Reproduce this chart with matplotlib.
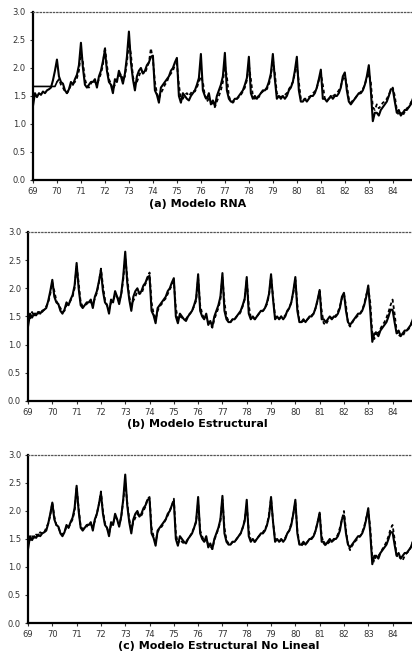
import numpy as np
import matplotlib
matplotlib.use("Agg")
import matplotlib.pyplot as plt

# monthly values, Jan..Dec, 1969-1984
years = list(range(69, 85))

actual = [
    [1.32, 1.55, 1.48, 1.55, 1.52, 1.58, 1.55, 1.60, 1.62, 1.65, 1.78, 1.95],
    [2.15, 1.85, 1.75, 1.72, 1.60, 1.55, 1.62, 1.75, 1.70, 1.80, 1.88, 2.05],
    [2.45, 2.00, 1.70, 1.65, 1.70, 1.75, 1.75, 1.80, 1.65, 1.85, 1.95, 2.12],
    [2.32, 1.95, 1.75, 1.70, 1.55, 1.80, 1.75, 1.95, 1.85, 1.72, 1.90, 2.20],
    [2.65, 2.10, 1.80, 1.60, 1.85, 1.95, 2.00, 1.90, 1.95, 2.05, 2.10, 2.20],
    [2.22, 1.60, 1.52, 1.38, 1.65, 1.70, 1.75, 1.80, 1.85, 1.95, 2.00, 2.10],
    [2.18, 1.50, 1.38, 1.55, 1.50, 1.45, 1.42, 1.50, 1.55, 1.60, 1.70, 1.82],
    [2.25, 1.60, 1.50, 1.45, 1.55, 1.35, 1.42, 1.32, 1.50, 1.60, 1.70, 1.85],
    [2.27, 1.60, 1.45, 1.40, 1.40, 1.45, 1.45, 1.50, 1.55, 1.60, 1.70, 1.82],
    [2.20, 1.55, 1.45, 1.50, 1.45, 1.50, 1.55, 1.60, 1.60, 1.65, 1.75, 1.90],
    [2.25, 1.80, 1.45, 1.50, 1.45, 1.50, 1.45, 1.50, 1.60, 1.65, 1.75, 1.95],
    [2.20, 1.60, 1.40, 1.40, 1.45, 1.40, 1.45, 1.50, 1.50, 1.55, 1.65, 1.80],
    [1.97, 1.45, 1.45, 1.40, 1.45, 1.50, 1.45, 1.50, 1.50, 1.55, 1.65, 1.85],
    [1.92, 1.60, 1.40, 1.35, 1.40, 1.45, 1.50, 1.55, 1.55, 1.60, 1.70, 1.85],
    [2.05, 1.60, 1.05, 1.20, 1.20, 1.15, 1.25, 1.30, 1.35, 1.40, 1.50, 1.62],
    [1.62, 1.40, 1.20, 1.25, 1.15, 1.20, 1.25, 1.25, 1.30, 1.35, 1.45, 1.55],
]

rna = [
    [1.67, 1.67, 1.67, 1.67, 1.67, 1.67, 1.67, 1.67, 1.67, 1.67, 1.67, 1.67],
    [1.75, 1.80, 1.70, 1.65, 1.58, 1.55, 1.60, 1.70, 1.72, 1.75, 1.82, 1.95],
    [2.30, 2.10, 1.80, 1.68, 1.65, 1.72, 1.78, 1.75, 1.70, 1.80, 1.90, 2.05],
    [2.38, 2.05, 1.80, 1.72, 1.62, 1.70, 1.80, 1.85, 1.90, 1.78, 1.85, 2.10],
    [2.45, 2.25, 1.85, 1.70, 1.75, 1.85, 1.95, 1.92, 1.90, 2.00, 2.10, 2.35],
    [2.15, 1.75, 1.55, 1.45, 1.55, 1.62, 1.70, 1.75, 1.85, 1.90, 1.95, 2.05],
    [2.08, 1.70, 1.45, 1.45, 1.52, 1.55, 1.50, 1.55, 1.60, 1.58, 1.65, 1.75],
    [1.85, 1.75, 1.50, 1.40, 1.45, 1.40, 1.35, 1.30, 1.40, 1.50, 1.60, 1.75],
    [2.05, 1.85, 1.50, 1.40, 1.38, 1.42, 1.45, 1.48, 1.52, 1.58, 1.65, 1.78],
    [2.05, 1.80, 1.50, 1.45, 1.50, 1.48, 1.55, 1.58, 1.62, 1.62, 1.70, 1.85],
    [2.15, 1.90, 1.55, 1.50, 1.48, 1.50, 1.52, 1.55, 1.62, 1.68, 1.75, 1.90],
    [2.05, 1.75, 1.45, 1.42, 1.45, 1.45, 1.48, 1.50, 1.55, 1.58, 1.65, 1.78],
    [1.90, 1.70, 1.45, 1.42, 1.45, 1.48, 1.50, 1.52, 1.55, 1.60, 1.68, 1.80],
    [1.85, 1.70, 1.45, 1.38, 1.42, 1.45, 1.50, 1.52, 1.58, 1.62, 1.70, 1.82],
    [1.90, 1.75, 1.30, 1.25, 1.35, 1.28, 1.32, 1.38, 1.40, 1.45, 1.52, 1.60],
    [1.65, 1.50, 1.25, 1.15, 1.20, 1.15, 1.22, 1.28, 1.30, 1.38, 1.45, 1.52],
]

estructural = [
    [1.55, 1.45, 1.58, 1.50, 1.58, 1.55, 1.60, 1.58, 1.62, 1.68, 1.75, 1.90],
    [2.10, 1.95, 1.78, 1.70, 1.65, 1.58, 1.60, 1.70, 1.72, 1.78, 1.85, 2.00],
    [2.40, 2.10, 1.75, 1.68, 1.70, 1.72, 1.78, 1.75, 1.72, 1.82, 1.92, 2.10],
    [2.35, 2.05, 1.80, 1.70, 1.62, 1.75, 1.78, 1.88, 1.85, 1.78, 1.88, 2.15],
    [2.55, 2.20, 1.85, 1.70, 1.78, 1.85, 1.95, 1.92, 1.90, 2.00, 2.08, 2.15],
    [2.28, 1.75, 1.55, 1.45, 1.60, 1.68, 1.72, 1.78, 1.82, 1.90, 1.98, 2.05],
    [2.12, 1.65, 1.45, 1.50, 1.48, 1.45, 1.45, 1.52, 1.55, 1.60, 1.68, 1.78],
    [2.18, 1.70, 1.55, 1.45, 1.50, 1.40, 1.38, 1.30, 1.45, 1.55, 1.65, 1.80],
    [2.20, 1.75, 1.50, 1.42, 1.40, 1.45, 1.45, 1.50, 1.52, 1.58, 1.68, 1.80],
    [2.15, 1.70, 1.48, 1.48, 1.45, 1.50, 1.55, 1.58, 1.60, 1.65, 1.72, 1.88],
    [2.20, 1.85, 1.50, 1.48, 1.45, 1.50, 1.48, 1.52, 1.58, 1.65, 1.75, 1.92],
    [2.15, 1.70, 1.42, 1.40, 1.42, 1.42, 1.45, 1.48, 1.52, 1.55, 1.65, 1.78],
    [1.95, 1.60, 1.38, 1.35, 1.42, 1.45, 1.48, 1.45, 1.52, 1.58, 1.68, 1.82],
    [1.90, 1.70, 1.38, 1.32, 1.38, 1.45, 1.48, 1.52, 1.55, 1.62, 1.72, 1.88],
    [2.00, 1.75, 1.20, 1.10, 1.25, 1.20, 1.28, 1.35, 1.40, 1.48, 1.58, 1.70],
    [1.80, 1.55, 1.25, 1.15, 1.18, 1.15, 1.22, 1.25, 1.28, 1.35, 1.45, 1.55],
]

no_lineal = [
    [1.50, 1.48, 1.55, 1.52, 1.58, 1.55, 1.62, 1.60, 1.62, 1.70, 1.78, 1.92],
    [2.15, 1.90, 1.75, 1.70, 1.62, 1.58, 1.62, 1.72, 1.70, 1.78, 1.85, 2.00],
    [2.42, 2.05, 1.72, 1.68, 1.70, 1.72, 1.78, 1.76, 1.72, 1.82, 1.95, 2.12],
    [2.35, 2.00, 1.78, 1.70, 1.60, 1.75, 1.78, 1.90, 1.85, 1.75, 1.88, 2.18],
    [2.50, 2.15, 1.85, 1.68, 1.80, 1.88, 1.95, 1.90, 1.92, 2.00, 2.08, 2.22],
    [2.25, 1.70, 1.55, 1.45, 1.62, 1.70, 1.72, 1.78, 1.85, 1.92, 2.00, 2.10],
    [2.22, 1.60, 1.42, 1.48, 1.45, 1.42, 1.45, 1.50, 1.55, 1.62, 1.70, 1.80],
    [2.15, 1.65, 1.55, 1.45, 1.50, 1.40, 1.38, 1.32, 1.48, 1.58, 1.68, 1.82],
    [2.20, 1.70, 1.48, 1.42, 1.40, 1.45, 1.45, 1.50, 1.55, 1.60, 1.70, 1.85],
    [2.10, 1.65, 1.48, 1.45, 1.45, 1.50, 1.55, 1.58, 1.62, 1.68, 1.75, 1.95],
    [2.22, 1.80, 1.50, 1.48, 1.45, 1.48, 1.48, 1.52, 1.60, 1.65, 1.78, 1.95],
    [2.15, 1.65, 1.42, 1.38, 1.42, 1.40, 1.45, 1.48, 1.52, 1.55, 1.65, 1.80],
    [1.95, 1.55, 1.42, 1.38, 1.42, 1.45, 1.45, 1.48, 1.52, 1.58, 1.70, 1.85],
    [2.00, 1.65, 1.40, 1.30, 1.38, 1.42, 1.48, 1.50, 1.55, 1.62, 1.72, 1.88],
    [2.00, 1.70, 1.15, 1.10, 1.22, 1.20, 1.25, 1.32, 1.38, 1.45, 1.55, 1.68],
    [1.75, 1.50, 1.22, 1.15, 1.18, 1.12, 1.20, 1.25, 1.28, 1.35, 1.45, 1.58],
]

titles = ["(a) Modelo RNA", "(b) Modelo Estructural", "(c) Modelo Estructural No Lineal"]

t = np.array([y + m / 12 for y in years for m in range(12)])
obs = np.array(actual).ravel()
models = [np.array(rna).ravel(), np.array(estructural).ravel(), np.array(no_lineal).ravel()]

fig = plt.figure(figsize=(4.12, 6.54), dpi=100)
boxes = [[0.080, 0.7248, 0.920, 0.2569],
         [0.068, 0.3869, 0.932, 0.2584],
         [0.068, 0.0474, 0.932, 0.2569]]
title_pos = [(0.48, 1 - 204 / 654), (0.48, 1 - 424 / 654), (0.53, 1 - 646 / 654)]

for i in range(3):
    ax = fig.add_axes(boxes[i])
    mod = models[i]
    if i == 0:
        # RNA warm-up year drawn as a flat line
        ax.plot(t[:13], mod[:13], color="black", lw=1.2)
        ax.plot(t[12:], mod[12:], color="black", lw=1.3, ls=(0, (2, 1.5)))
    else:
        ax.plot(t, mod, color="black", lw=1.3, ls=(0, (2, 1.5)))
    ax.plot(t, obs, color="black", lw=1.5)

    ax.set_xlim(69, 84.8)
    ax.set_ylim(0, 3.0)
    ax.set_xticks(years)
    ax.set_xticklabels([str(y) for y in years])
    ax.set_yticks([0, 0.5, 1.0, 1.5, 2.0, 2.5, 3.0])
    ax.set_yticklabels(["0.0", "0.5", "1.0", "1.5", "2.0", "2.5", "3.0"])
    ax.tick_params(labelsize=6, length=2, width=0.8, pad=3, colors="#333333")
    ax.spines["right"].set_visible(False)
    ax.spines["top"].set_linestyle(":")
    ax.spines["top"].set_color("#555555")
    ax.spines["top"].set_linewidth(0.9)
    ax.spines["left"].set_linewidth(1.6)
    ax.spines["bottom"].set_linewidth(1.6)

    fig.text(title_pos[i][0], title_pos[i][1], titles[i], ha="center", va="center",
             fontsize=8, fontweight="bold", family="DejaVu Sans")

fig.savefig("out.png", dpi=100)
